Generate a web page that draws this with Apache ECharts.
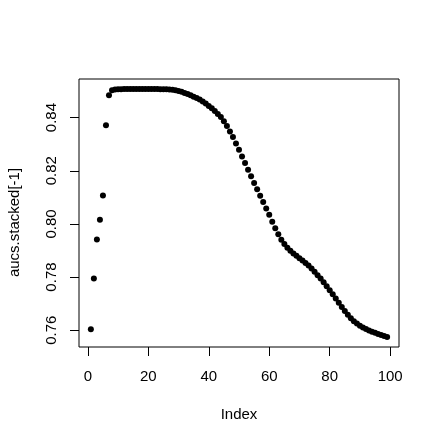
<!DOCTYPE html>
<html>
<head>
<meta charset="utf-8">
<title>aucs.stacked</title>
<script src="https://cdn.jsdelivr.net/npm/echarts@6/dist/echarts.min.js"></script>
<style>
  html, body { margin: 0; padding: 0; background: #fff; }
  #chart { width: 440px; height: 445px; }
</style>
</head>
<body>
<div id="chart"></div>
<script>
// 数据：aucs.stacked[-1]，按序号 1..99
const aucValues = [
  0.7603, 0.7794, 0.7941, 0.8016, 0.8107, 0.8371, 0.8484, 0.8503, 0.8506, 0.8507,
  0.8507, 0.8508, 0.8508, 0.8508, 0.8508, 0.8508, 0.8508, 0.8508, 0.8508, 0.8508,
  0.8508, 0.8508, 0.8508, 0.8507, 0.8507, 0.8507, 0.8506, 0.8505, 0.8503, 0.8500,
  0.8497, 0.8493, 0.8489, 0.8484, 0.8479, 0.8474, 0.8468, 0.8461, 0.8453, 0.8444,
  0.8435, 0.8425, 0.8414, 0.8402, 0.8386, 0.8368, 0.8348, 0.8327, 0.8303, 0.8279,
  0.8254, 0.8229, 0.8204, 0.8179, 0.8154, 0.8130, 0.8106, 0.8082, 0.8058, 0.8034,
  0.8008, 0.7984, 0.7961, 0.7940, 0.7924, 0.7910, 0.7899, 0.7889, 0.7880, 0.7871,
  0.7862, 0.7853, 0.7843, 0.7832, 0.7820, 0.7807, 0.7794, 0.7780, 0.7765, 0.7750,
  0.7735, 0.7719, 0.7703, 0.7687, 0.7672, 0.7658, 0.7645, 0.7634, 0.7625, 0.7617,
  0.7610, 0.7604, 0.7599, 0.7594, 0.7590, 0.7586, 0.7582, 0.7578, 0.7574
];

// 刻度
const xTicks = [0, 20, 40, 60, 80, 100];
const yTicks = [0.76, 0.78, 0.80, 0.82, 0.84];

const xTitle = 'Index';
const yTitle = 'aucs.stacked[-1]';

const FONT = 'Liberation Sans, Arial, Helvetica, sans-serif';

/**
 * R 风格的轴范围：两端各扩展 4%
 */
function padRange(lo, hi) {
  const d = (hi - lo) * 0.04;
  return [lo - d, hi + d];
}

const points = aucValues.map((v, i) => [i + 1, v]);
const [xMin, xMax] = padRange(1, aucValues.length);
const [yMin, yMax] = padRange(Math.min(...aucValues), Math.max(...aucValues));

const chart = echarts.init(document.getElementById('chart'));

chart.setOption({
  animation: false,
  grid: {
    left: 79, right: 41, top: 79, bottom: 98,
    show: true,
    borderColor: '#000',
    borderWidth: 1
  },
  // y 轴标题：旋转文字，放在绘图区左侧居中
  graphic: [{
    type: 'text',
    left: 7,
    top: 'middle',
    rotation: Math.PI / 2,
    style: {
      text: yTitle,
      fill: '#000',
      fontSize: 15,
      fontFamily: FONT
    }
  }],
  xAxis: {
    type: 'value',
    min: xMin,
    max: xMax,
    name: xTitle,
    nameLocation: 'middle',
    nameGap: 60,
    nameTextStyle: { color: '#000', fontSize: 15, fontFamily: FONT },
    axisLine: { show: false, onZero: false },
    splitLine: { show: false },
    axisTick: {
      show: true, length: 9,
      customValues: xTicks,
      lineStyle: { color: '#000', width: 1 }
    },
    axisLabel: {
      customValues: xTicks,
      margin: 22,
      color: '#000',
      fontSize: 15,
      fontFamily: FONT
    }
  },
  yAxis: {
    type: 'value',
    min: yMin,
    max: yMax,
    axisLine: { show: false, onZero: false },
    splitLine: { show: false },
    axisTick: {
      show: true, length: 9,
      customValues: yTicks,
      lineStyle: { color: '#000', width: 1 }
    },
    axisLabel: {
      customValues: yTicks,
      rotate: 90,
      margin: 20,
      color: '#000',
      fontSize: 15,
      fontFamily: FONT,
      formatter: v => v.toFixed(2)
    }
  },
  series: [{
    type: 'scatter',
    data: points,
    symbol: 'circle',
    symbolSize: 6,
    itemStyle: { color: '#000', opacity: 1 }
  }]
});
</script>
</body>
</html>
